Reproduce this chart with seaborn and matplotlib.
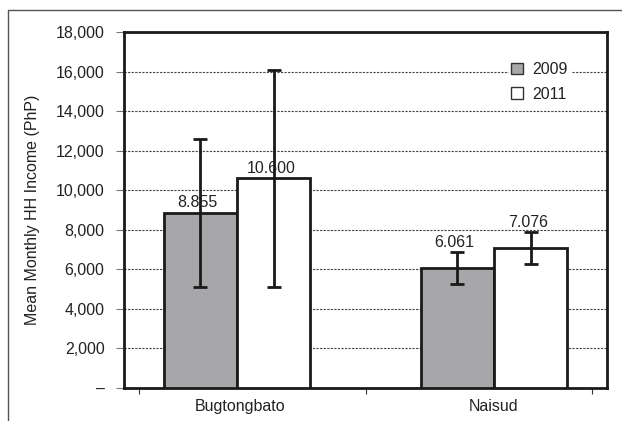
import numpy as np
import pandas as pd
import matplotlib
matplotlib.use("Agg")
import matplotlib.pyplot as plt
import matplotlib.ticker as mticker
from matplotlib.patches import Patch
from matplotlib.lines import Line2D
import seaborn as sns

# data
sites = ["Bugtongbato", "Naisud"]
years = ["2009", "2011"]
income_2009 = [8855, 6061]
income_2011 = [10600, 7076]
err_2009 = [3750, 790]
err_2011 = [5500, 790]
value_labels_2009 = ["8.855", "6.061"]
value_labels_2011 = ["10.600", "7.076"]

df = pd.DataFrame({
    "Site": sites * 2,
    "Year": [years[0]] * 2 + [years[1]] * 2,
    "Income": income_2009 + income_2011,
})

sns.set_style("white")
plt.rcParams["font.family"] = ["Liberation Sans", "DejaVu Sans"]
fs = 11.5

fig = plt.figure(figsize=(6.22, 4.21), dpi=100)
ax = fig.add_axes([0.1994, 0.0784, 0.7765, 0.8456])

sns.barplot(data=df, x="Site", y="Income", hue="Year", order=sites, hue_order=years,
            palette=["#a7a7a9", "white"], width=0.57, errorbar=None, legend=False,
            edgecolor="#1a1a1a", linewidth=2, zorder=3, ax=ax)

errs = [err_2009, err_2011]
labels = [value_labels_2009, value_labels_2011]
for cont, e, labs in zip(ax.containers, errs, labels):
    xs = [b.get_x() + b.get_width() / 2 for b in cont]
    hs = [b.get_height() for b in cont]
    ax.errorbar(xs, hs, yerr=e, fmt="none", ecolor="#1a1a1a", elinewidth=2,
                capsize=4.7, capthick=2, zorder=4)
    for x, h, err, lab in zip(xs, hs, e, labs):
        # small error bars: label sits above the cap, otherwise on the bar top
        y = h + err if err < 1000 else h
        ax.annotate(lab, (x, y), xytext=(-2, 2), textcoords="offset points",
                    ha="center", va="bottom", fontsize=fs, color="#222222", zorder=5)

ax.set_xlim(-0.44, 1.44)
ax.set_ylim(0, 18000)
ax.set_yticks(np.arange(0, 18001, 2000))
ax.yaxis.set_major_formatter(mticker.FuncFormatter(
    lambda v, p: "\u2013" if v == 0 else f"{int(v):,}"))
ax.yaxis.grid(True, color="#444444", linestyle=(0, (2, 1.2)), linewidth=0.8, zorder=0)
ax.set_axisbelow(True)

# category boundary ticks, labels at group centers
ax.set_xticks([-0.38, 0.5, 1.38])
ax.set_xticklabels([])
ax.set_xticks([0.01, 1.0], minor=True)
ax.set_xticklabels(sites, minor=True)
ax.tick_params(axis="x", which="major", direction="out", length=4, width=0.8,
               color="#333333", bottom=True)
ax.tick_params(axis="x", which="minor", length=0, labelsize=fs, labelcolor="#222222", pad=8)
ax.tick_params(axis="y", direction="out", length=6, width=0.8, color="#777777", left=True,
               labelsize=fs, labelcolor="#222222", pad=8)

ax.set_xlabel("")
ax.set_ylabel("Mean Monthly HH Income (PhP)", fontsize=fs, color="#222222", labelpad=11)

for s in ax.spines.values():
    s.set_visible(True)
    s.set_color("#1a1a1a")
    s.set_linewidth(2)

handles = [Patch(facecolor="#a7a7a9", edgecolor="#333333", linewidth=1),
           Patch(facecolor="white", edgecolor="#333333", linewidth=1)]
leg = ax.legend(handles, years, loc="upper left", bbox_to_anchor=(0.78, 0.945),
                frameon=True, fancybox=False, edgecolor="white", framealpha=1,
                handlelength=0.75, handleheight=0.75, handletextpad=0.55,
                labelspacing=0.6, fontsize=fs, borderpad=0.15)
for t in leg.get_texts():
    t.set_color("#222222")

# outer frame: only top and left edges show
fig.add_artist(Line2D([8 / 622, 1.0], [1 - 10 / 421] * 2, transform=fig.transFigure,
                      color="#555555", linewidth=1))
fig.add_artist(Line2D([8 / 622] * 2, [0.0, 1 - 10 / 421], transform=fig.transFigure,
                      color="#555555", linewidth=1))

fig.savefig("out.png", dpi=100)
